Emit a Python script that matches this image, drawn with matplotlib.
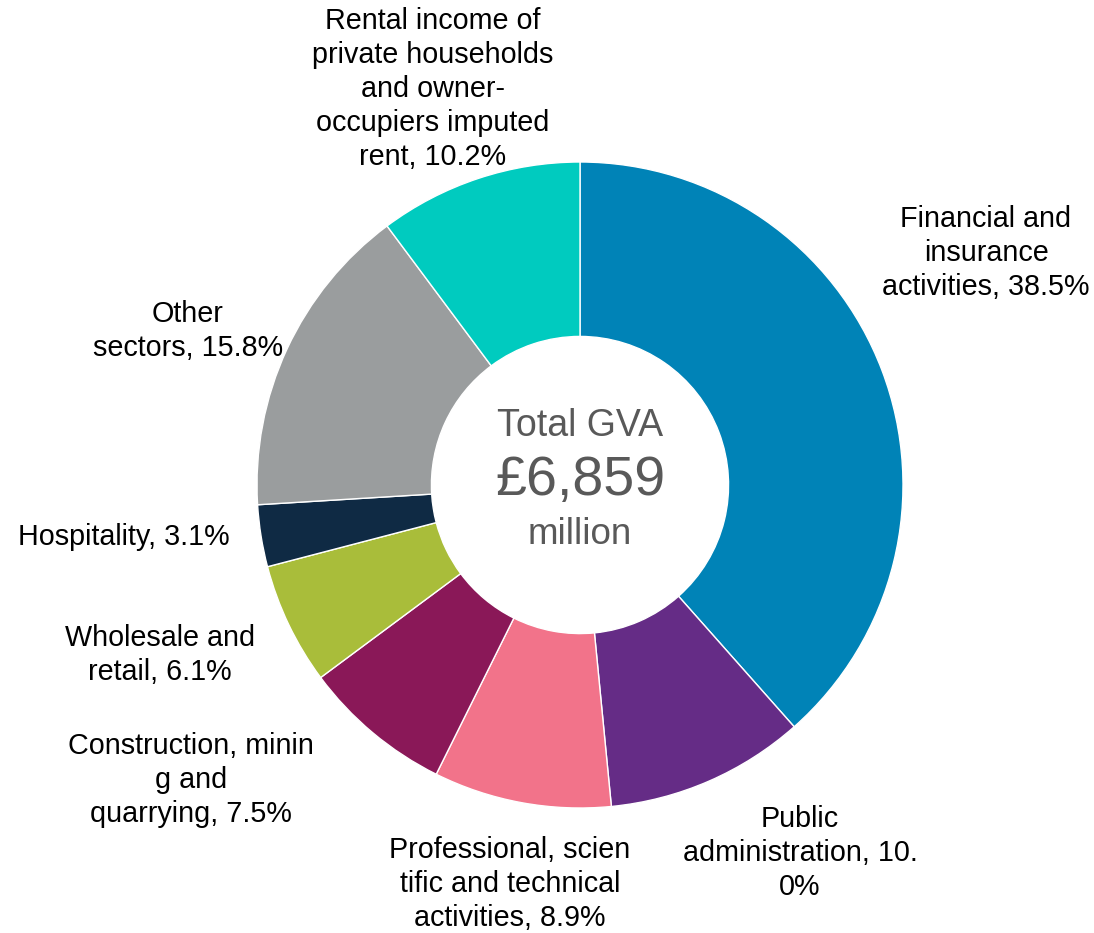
import matplotlib
matplotlib.use("Agg")
import matplotlib.pyplot as plt

sectors = ["Financial and\ninsurance\nactivities, 38.5%",
           "Public\nadministration, 10.\n0%",
           "Professional, scien\ntific and technical\nactivities, 8.9%",
           "Construction, minin\ng and\nquarrying, 7.5%",
           "Wholesale and\nretail, 6.1%",
           "Hospitality, 3.1%",
           "Other\nsectors, 15.8%",
           "Rental income of\nprivate households\nand owner-\noccupiers imputed\nrent, 10.2%"]
shares = [38.5, 10.0, 8.9, 7.5, 6.1, 3.1, 15.8, 10.2]
colors = ["#0083B7", "#652C86", "#F2738A", "#8A1858", "#A9BD3A",
          "#0F2A44", "#9A9D9E", "#00CBBF"]
center_lines = ["Total GVA", "£6,859", "million"]

# label pixel positions (style)
label_px = [(986, 253), (800, 853), (510, 884), (191, 780), (160, 655),
            (124, 537), (188, 331), (433, 89)]

W, H = 1094, 933
cx, cy, R = 580, 485, 323

plt.rcParams['font.family'] = ['Liberation Sans', 'DejaVu Sans']
fig = plt.figure(figsize=(W / 100, H / 100), dpi=100)
ax = fig.add_axes([0, 0, 1, 1])
ax.pie(shares, colors=colors, startangle=90, counterclock=False, radius=1,
       wedgeprops=dict(width=0.54, edgecolor="white", linewidth=1))
ax.set_xlim(-cx / R, (W - cx) / R)
ax.set_ylim(-(H - cy) / R, cy / R)
ax.set_aspect("equal")
ax.axis("off")

def to_data(px, py):
    return (px - cx) / R, (cy - py) / R

for lab, (px, py) in zip(sectors, label_px):
    x, y = to_data(px, py)
    ax.text(x, y, lab, ha="center", va="center", fontsize=20.7,
            color="black", linespacing=1.28)

grey = "#595959"
for txt, py, fs in zip(center_lines, [426, 481, 535], [27, 40, 26.5]):
    x, y = to_data(580, py)
    ax.text(x, y, txt, ha="center", va="center", fontsize=fs, color=grey)

fig.savefig("out.png", dpi=100)
